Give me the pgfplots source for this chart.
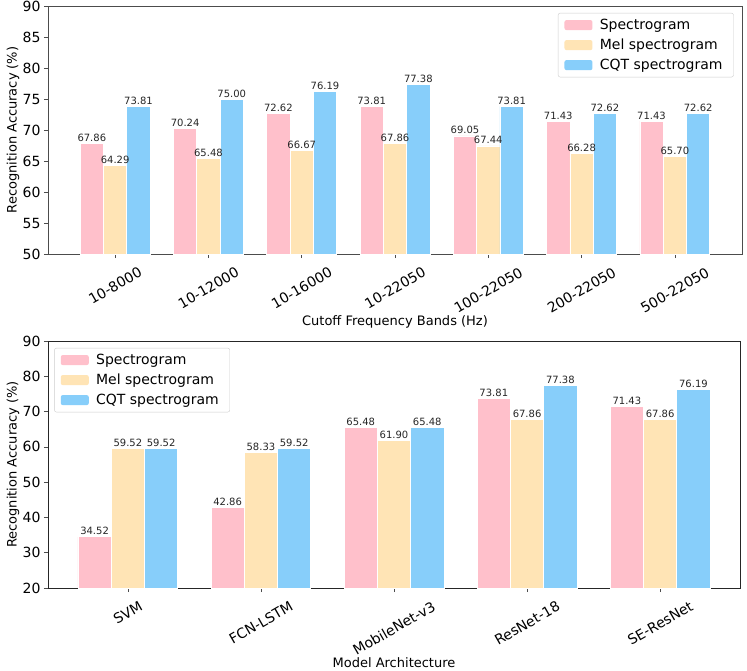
\documentclass[border=0pt]{standalone}
\usepackage{fontspec}
\setmainfont{DejaVu Sans}
\usepackage{graphicx}
\usepackage{pgfplots}
\pgfplotsset{compat=1.18}

\definecolor{cspec}{RGB}{255,192,203}
\definecolor{cmel}{RGB}{255,228,181}
\definecolor{ccqt}{RGB}{135,206,250}

\newcommand{\rl}[1]{\rotatebox{30}{#1}}

\pgfplotsset{
  accbars/.style={
    scale only axis,
    ybar,
    bar width=0.25,
    /pgf/number format/assume math mode=true,
    axis line style={black!70},
    tick style={black!70, line width=0.6pt},
    major tick length=4pt,
    tick align=outside,
    xtick pos=lower, ytick pos=left,
    xtick=data,
    ticklabel style={font=\fontsize{14}{16}\selectfont},
    x tick label style={anchor=north},
    xticklabel shift=5pt,
    label style={font=\fontsize{13}{15}\selectfont},
    ylabel={Recognition Accuracy (\%)},
    nodes near coords={\pgfmathprintnumber[fixed,zerofill,precision=2]{\pgfplotspointmeta}},
    every node near coord/.append style={font=\fontsize{10}{12}\selectfont, inner sep=1.5pt, black!85},
    legend cell align=left,
    legend style={draw=black!20, rounded corners=2pt, font=\fontsize{14}{16}\selectfont,
      row sep=4pt, inner xsep=5pt, inner ysep=4pt,
      nodes={inner xsep=6pt}},
  },
  patch/.style={legend image code/.code={\fill[##1, draw=none] (0pt,-5pt) rectangle (28pt,5pt); \path (-1pt,0pt) (29pt,0pt);}},
  specbar/.style={fill=cspec, draw=white, line width=0.7pt, bar shift=-0.25, patch},
  melbar/.style={fill=cmel, draw=white, line width=0.7pt, bar shift=0, patch},
  cqtbar/.style={fill=ccqt, draw=white, line width=0.7pt, bar shift=0.25, patch},
}

\begin{document}
\begin{tikzpicture}

% cutoff frequency bands
\begin{axis}[
    accbars,
    at={(48pt,-254pt)}, anchor=south west,
    width=694pt, height=248pt,
    xmin=-0.72, xmax=6.72,
    ymin=50, ymax=90, ytick={50,55,...,90},
    xticklabels={\rl{10-8000},\rl{10-12000},\rl{10-16000},\rl{10-22050},\rl{100-22050},\rl{200-22050},\rl{500-22050}},
    xlabel={Cutoff Frequency Bands (Hz)},
    xlabel style={at={(axis description cs:0.5,-0.274)}, anchor=center},
    ylabel style={at={(axis description cs:-0.0504,0.5)}, anchor=center},
    legend style={at={(0.988,0.972)}, anchor=north east},
  ]
\addplot[specbar] coordinates {(0,67.86) (1,70.24) (2,72.62) (3,73.81) (4,69.05) (5,71.43) (6,71.43)};
\addplot[melbar] coordinates {(0,64.29) (1,65.48) (2,66.67) (3,67.86) (4,67.44) (5,66.28) (6,65.70)};
\addplot[cqtbar] coordinates {(0,73.81) (1,75.00) (2,76.19) (3,77.38) (4,73.81) (5,72.62) (6,72.62)};
\legend{Spectrogram, Mel spectrogram, CQT spectrogram}
\end{axis}

% model architectures
\begin{axis}[
    accbars,
    at={(48pt,-588pt)}, anchor=south west,
    width=692pt, height=247pt,
    axis line style={black!85},
    xmin=-0.6, xmax=4.6,
    ymin=20, ymax=90, ytick={20,30,...,90},
    xticklabels={\rl{SVM},\rl{FCN-LSTM},\rl{MobileNet-v3},\rl{ResNet-18},\rl{SE-ResNet}},
    xlabel={Model Architecture},
    xlabel style={at={(axis description cs:0.5,-0.304)}, anchor=center},
    ylabel style={at={(axis description cs:-0.0506,0.5)}, anchor=center},
    legend style={at={(0.009,0.972)}, anchor=north west},
  ]
\addplot[specbar] coordinates {(0,34.52) (1,42.86) (2,65.48) (3,73.81) (4,71.43)};
\addplot[melbar] coordinates {(0,59.52) (1,58.33) (2,61.90) (3,67.86) (4,67.86)};
\addplot[cqtbar] coordinates {(0,59.52) (1,59.52) (2,65.48) (3,77.38) (4,76.19)};
\legend{Spectrogram, Mel spectrogram, CQT spectrogram}
\end{axis}

\pgfresetboundingbox
\useasboundingbox (0pt,0pt) rectangle (747pt,-670pt);
\end{tikzpicture}
\end{document}
